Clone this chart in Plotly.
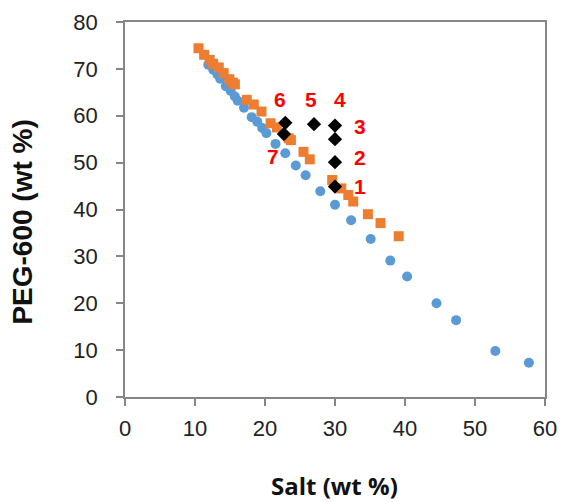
import plotly.graph_objects as go

# Binodal (blue circles)
blue_x = [11.9, 12.6, 13.2, 13.6, 14.4, 15.1, 15.7, 16.1, 17.0, 18.1, 18.9, 19.6, 20.2,
          21.5, 22.9, 24.4, 25.8, 27.9, 30.0, 32.3, 35.1, 37.9, 40.3, 44.5, 47.3, 52.9, 57.7]
blue_y = [70.9, 69.8, 68.8, 67.9, 66.3, 65.3, 64.1, 63.2, 61.7, 59.7, 58.7, 57.4, 56.3,
          54.0, 52.0, 49.4, 47.3, 43.9, 41.0, 37.7, 33.7, 29.1, 25.7, 20.0, 16.4, 9.8, 7.3]

# Second series (orange squares)
orange_x = [10.5, 11.3, 12.1, 12.6, 13.4, 14.1, 14.9, 15.4, 15.7, 17.4, 18.4, 19.5, 20.8,
            21.7, 23.4, 23.7, 25.5, 26.4, 29.6, 30.9, 31.9, 32.6, 34.7, 36.5, 39.1]
orange_y = [74.4, 73.0, 71.9, 71.1, 70.3, 69.1, 67.8, 67.1, 66.7, 63.4, 62.4, 60.9, 58.4,
            57.5, 55.2, 54.8, 52.3, 50.7, 46.3, 44.5, 43.1, 41.7, 39.0, 37.1, 34.3]

# Mixture points (black diamonds)
mix_x = [22.9, 22.7, 27.0, 30.0, 30.0, 30.0, 30.0]
mix_y = [58.5, 56.1, 58.2, 57.9, 55.0, 50.1, 44.9]

# Point labels
label_text = ["6", "5", "4", "3", "2", "1", "7"]
label_x = [22.2, 26.5, 30.7, 33.6, 33.6, 33.6, 21.1]
label_y = [63.4, 63.4, 63.4, 57.8, 51.1, 45.0, 51.3]

x_ticks = [0, 10, 20, 30, 40, 50, 60]
y_ticks = [0, 10, 20, 30, 40, 50, 60, 70, 80]
x_title = "Salt (wt %)"
y_title = "PEG-600 (wt %)"

fig = go.Figure()
fig.add_trace(go.Scatter(x=blue_x, y=blue_y, mode="markers",
                         marker=dict(symbol="circle", size=10, color="#5B9BD5",
                                     line=dict(width=0))))
fig.add_trace(go.Scatter(x=orange_x, y=orange_y, mode="markers",
                         marker=dict(symbol="square", size=10, color="#ED7D31",
                                     line=dict(width=0))))
fig.add_trace(go.Scatter(x=mix_x, y=mix_y, mode="markers",
                         marker=dict(symbol="diamond", size=11, color="#000000",
                                     line=dict(width=0))))

for t, x, y in zip(label_text, label_x, label_y):
    fig.add_annotation(x=x, y=y, text=t, showarrow=False,
                       font=dict(family="Arial", size=21, color="#FF0000", weight="bold"))

# axis titles
fig.add_annotation(xref="paper", yref="paper", x=0.4994, y=-0.236, text=x_title,
                   showarrow=False, xanchor="center", yanchor="middle",
                   font=dict(family="Open Sans", size=24, color="#111111", weight="bold"))
fig.add_annotation(xref="paper", yref="paper", x=-0.2438, y=0.4667, text=y_title,
                   showarrow=False, xanchor="center", yanchor="middle", textangle=-90,
                   font=dict(family="Arial", size=28, color="#111111", weight="bold"))

axis_common = dict(showgrid=False, zeroline=False, showline=True, linecolor="#868686",
                   linewidth=1.5, mirror=True, ticks="outside", ticklen=7,
                   tickcolor="#868686", tickwidth=1.5, automargin=False,
                   tickfont=dict(family="Arial", size=22, color="#222222"))

fig.update_xaxes(range=[0, 60], tickvals=x_ticks, ticklabelstandoff=4, **axis_common)
fig.update_yaxes(range=[0, 80], tickvals=y_ticks, ticklabelstandoff=14, **axis_common)

fig.update_layout(width=561, height=502, showlegend=False, template="none",
                  plot_bgcolor="white", paper_bgcolor="white",
                  margin=dict(l=125, r=15.5, t=22, b=105))

fig.write_html("out.html", config={"displayModeBar": False},
               post_script="document.body.style.margin='0';"
                           "document.body.style.overflow='hidden';")
